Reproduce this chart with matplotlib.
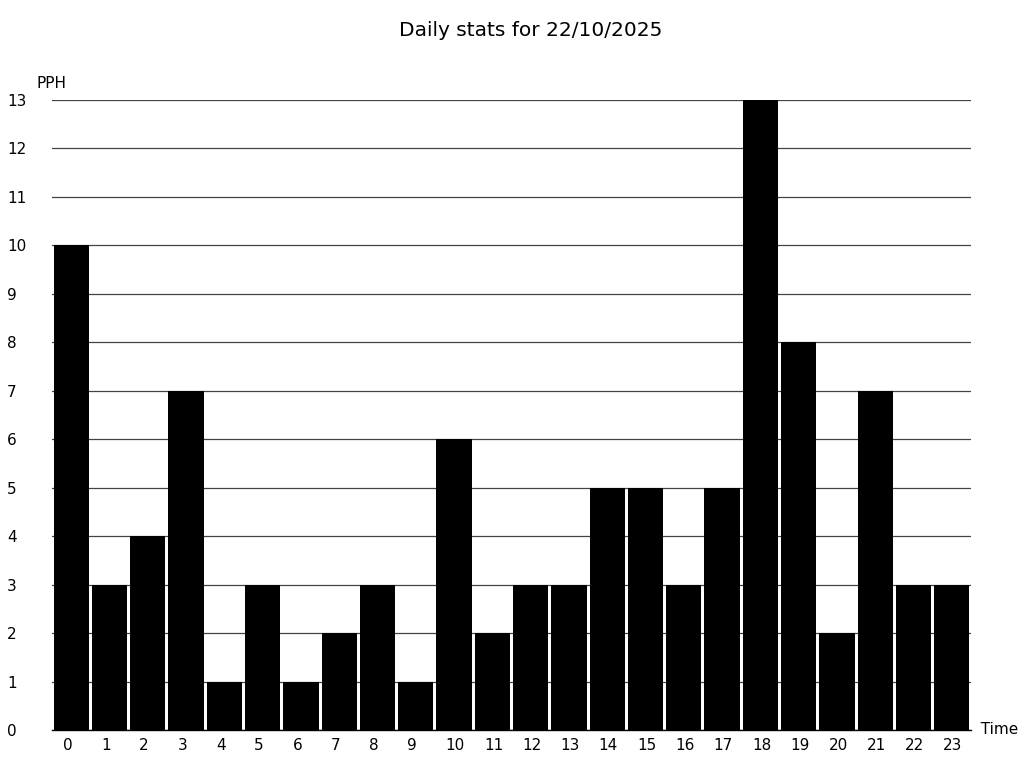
import matplotlib
matplotlib.use("Agg")
import matplotlib.pyplot as plt
import matplotlib.transforms as mtransforms

hours = list(range(24))
pph = [10, 3, 4, 7, 1, 3, 1, 2, 3, 1, 6, 2, 3, 3, 5, 5, 3, 5, 13, 8, 2, 7, 3, 3]
title = "Daily stats for 22/10/2025"

fig = plt.figure(figsize=(10.24, 7.68), dpi=100)
ax = fig.add_axes([52/1024, 38/768, 919/1024, 630/768])

ax.bar(hours, pph, width=0.92, color="black", zorder=2)
ax.set_xlim(-0.5, 23.5)
ax.set_ylim(0, 13)
ax.set_yticks(range(14))
ax.yaxis.grid(True, color="#444444", linewidth=0.9, zorder=0)
ax.set_axisbelow(True)

for s in ["top", "right", "left"]:
    ax.spines[s].set_visible(False)
ax.spines["bottom"].set_color("black")
ax.spines["bottom"].set_linewidth(1.0)

ax.tick_params(axis="both", length=0, labelsize=11)
ax.tick_params(axis="y", pad=32.4)
ax.tick_params(axis="x", pad=6)
for lab in ax.get_yticklabels():
    lab.set_horizontalalignment("left")

ax.set_xticks(hours)
ax.set_xticklabels([str(h) for h in hours])
off = mtransforms.ScaledTranslation(-8.5/100, 0, fig.dpi_scale_trans)
for lab in ax.get_xticklabels():
    lab.set_horizontalalignment("left")
    lab.set_transform(lab.get_transform() + off)

up = mtransforms.ScaledTranslation(0, 9/100, fig.dpi_scale_trans)
ax.text(0, 1.0, "PPH", transform=ax.transAxes + up, ha="center", va="bottom",
        fontsize=11)
ax.text(1.0, 0, "  Time", transform=ax.transAxes, ha="left", va="center",
        fontsize=11)
fig.text(531/1024, 1 - 30/768, title, ha="center", va="center", fontsize=14.5)

fig.savefig("out.png", dpi=100)
